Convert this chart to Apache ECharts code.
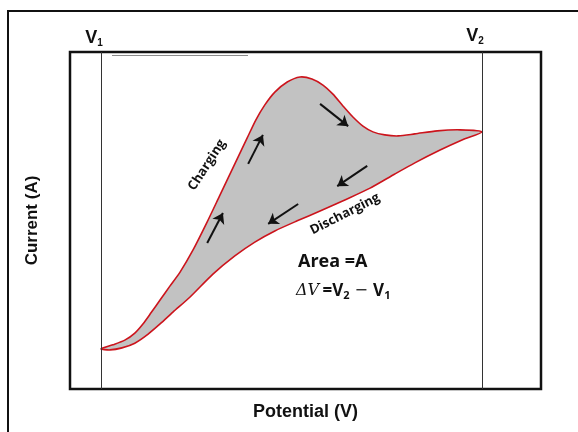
<!DOCTYPE html>
<html>
<head>
<meta charset="utf-8">
<script src="https://cdn.jsdelivr.net/npm/echarts@6/dist/echarts.min.js"></script>
<style>
  html, body { margin: 0; padding: 0; background: #fff; }
  #chart { width: 578px; height: 432px; }
</style>
</head>
<body>
<div id="chart"></div>
<script>
// Cyclic sweep limits (potential units)
const V1 = 1;
const V2 = 9;

// Charging branch: from V1 up through the peak to V2
const chargePotential = [1.00, 1.25, 1.50, 1.71, 1.88, 2.05, 2.24, 2.45, 2.66, 2.93, 3.23, 3.50, 3.77, 4.07, 4.25, 4.44, 4.65, 4.91, 5.18, 5.43, 5.66, 5.87, 6.08, 6.29, 6.50, 6.71, 6.96, 7.24, 7.59, 8.06, 8.54, 9.00];
const chargeCurrent   = [1.19, 1.31, 1.45, 1.66, 1.93, 2.26, 2.64, 3.06, 3.47, 4.12, 4.96, 5.76, 6.56, 7.45, 7.98, 8.43, 8.81, 9.11, 9.26, 9.20, 9.02, 8.75, 8.40, 8.07, 7.80, 7.63, 7.54, 7.51, 7.57, 7.66, 7.69, 7.63];

// Discharging branch: from V2 back down towards V1
const dischargePotential = [8.58, 8.12, 7.59, 7.17, 6.65, 6.12, 5.60, 5.12, 4.65, 4.23, 3.81, 3.35, 2.87, 2.51, 2.24, 1.99, 1.71, 1.44, 1.19];
const dischargeCurrent   = [7.39, 7.09, 6.71, 6.38, 5.96, 5.61, 5.28, 4.99, 4.69, 4.36, 3.95, 3.41, 2.73, 2.28, 1.93, 1.63, 1.36, 1.22, 1.16];

// Direction arrows: [potential, current] start and end
const arrowFrom = [[3.23, 4.33], [4.09, 6.68], [5.60, 8.46], [6.59, 6.62], [5.14, 5.49]];
const arrowTo   = [[3.56, 5.22], [4.40, 7.54], [6.19, 7.80], [5.96, 6.02], [4.51, 4.90]];

const loopPoints = chargePotential.map((x, i) => [x, chargeCurrent[i]])
  .concat(dischargePotential.map((x, i) => [x, dischargeCurrent[i]]));

const chart = echarts.init(document.getElementById('chart'), null, { renderer: 'canvas' });

const sans = 'Liberation Sans';

chart.setOption({
  animation: false,
  backgroundColor: '#fff',
  grid: {
    left: 70, right: 37, top: 52, bottom: 43,
    show: true, borderColor: '#111', borderWidth: 2.5
  },
  xAxis: {
    type: 'value', min: 0.349, max: 10.239,
    name: 'Potential (V)', nameLocation: 'middle', nameGap: 14,
    nameTextStyle: { fontFamily: sans, fontWeight: 'bold', fontSize: 18, color: '#111' },
    axisLine: { show: false }, axisTick: { show: false },
    axisLabel: { show: false }, splitLine: { show: false }
  },
  yAxis: {
    type: 'value', min: 0, max: 10,
    name: 'Current (A)', nameLocation: 'middle', nameGap: 29, nameRotate: 90,
    nameTextStyle: { fontFamily: sans, fontWeight: 'bold', fontSize: 17, color: '#111' },
    axisLine: { show: false }, axisTick: { show: false },
    axisLabel: { show: false }, splitLine: { show: false }
  },
  series: [
    {
      // Shaded hysteresis loop (area = A)
      type: 'custom',
      data: loopPoints,
      encode: { x: 0, y: 1 },
      z: 2,
      renderItem: function (params, api) {
        if (params.dataIndex !== 0) return null;
        const pts = loopPoints.map(p => api.coord(p));
        return {
          type: 'polygon',
          shape: { points: pts, smooth: 0.25 },
          style: { fill: '#c2c2c2', stroke: '#cc141c', lineWidth: 1.6 }
        };
      },
      markLine: {
        silent: true,
        symbol: ['none', 'none'],
        lineStyle: { color: '#333', width: 1, type: 'solid' },
        label: {
          show: true, position: 'end', distance: 4,
          color: '#111', fontFamily: sans,
          rich: {
            v: { fontSize: 18, fontWeight: 'bold', fontFamily: sans, color: '#111' },
            s: { fontSize: 10, fontWeight: 'bold', fontFamily: sans, color: '#111', verticalAlign: 'bottom', padding: [9, 0, 0, 0] }
          }
        },
        data: [
          { xAxis: V1, label: { formatter: '{v|V}{s|1}', offset: [-7, 0] } },
          { xAxis: V2, label: { formatter: '{v|V}{s|2}', offset: [-7, -2] } }
        ]
      }
    },
    {
      // Sweep direction arrows
      type: 'lines',
      coordinateSystem: 'cartesian2d',
      z: 4,
      symbol: ['none', 'arrow'],
      symbolSize: [8, 10],
      lineStyle: { color: '#111', width: 2, opacity: 1 },
      data: arrowFrom.map((a, i) => ({ coords: [a, arrowTo[i]] }))
    }
  ],
  graphic: [
    {
      type: 'rect', z: 0,
      shape: { x: 8, y: 11, width: 620, height: 500 },
      style: { fill: 'none', stroke: '#111', lineWidth: 2 }
    },
    {
      type: 'line', z: 1,
      shape: { x1: 112, y1: 55.5, x2: 248, y2: 55.5 },
      style: { stroke: '#8a8a8a', lineWidth: 1 }
    },
    {
      type: 'text', z: 10, x: 207, y: 165, rotation: 57 * Math.PI / 180,
      style: { text: 'Charging', fontFamily: 'Open Sans', fontSize: 13, fontWeight: 'bold', fill: '#111', align: 'center', verticalAlign: 'middle' }
    },
    {
      type: 'text', z: 10, x: 345, y: 214, rotation: 27 * Math.PI / 180,
      style: { text: 'Discharging', fontFamily: 'Open Sans', fontSize: 13, fontWeight: 'bold', fill: '#111', align: 'center', verticalAlign: 'middle' }
    },
    {
      type: 'text', z: 10, x: 298, y: 262,
      style: { text: 'Area =A', fontFamily: 'Open Sans', fontSize: 18, fontWeight: 'bold', fill: '#111', verticalAlign: 'middle' }
    },
    {
      type: 'text', z: 10, x: 296, y: 291,
      style: {
        text: '{d|ΔV} {b|=V}{s|2}{m| − }{b|V}{s|1}',
        verticalAlign: 'middle',
        rich: {
          d: { fontFamily: 'DejaVu Serif', fontStyle: 'italic', fontSize: 16, fill: '#111' },
          b: { fontFamily: 'Open Sans', fontWeight: 'bold', fontSize: 17, fill: '#111' },
          s: { fontFamily: 'Open Sans', fontWeight: 'bold', fontSize: 11, fill: '#111', verticalAlign: 'bottom', padding: [10, 0, 0, 0] },
          m: { fontFamily: 'DejaVu Serif', fontSize: 16, fill: '#111' }
        }
      }
    }
  ]
});
</script>
</body>
</html>
